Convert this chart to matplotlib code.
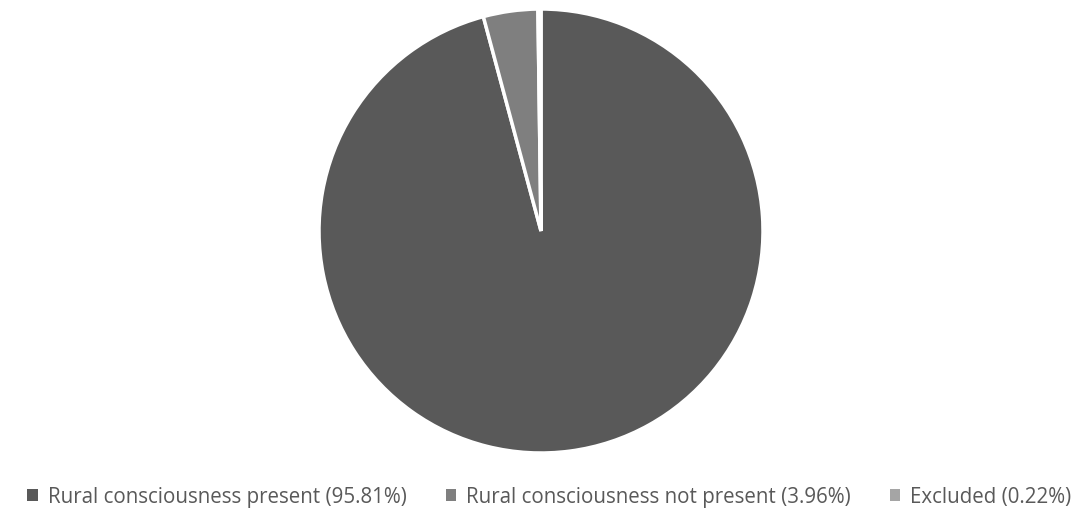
import matplotlib.pyplot as plt
from matplotlib.patches import Patch

plt.rcParams['font.family'] = ['Open Sans', 'DejaVu Sans']

# Datos del gráfico
etiquetas = ["Rural consciousness present (95.81%)",
             "Rural consciousness not present (3.96%)",
             "Excluded (0.22%)"]
valores = [95.81, 3.96, 0.22]
colores = ["#595959", "#7f7f7f", "#a5a5a5"]

fig = plt.figure(figsize=(10.88, 5.19), dpi=100)
ax = fig.add_axes([(541 - 222) / 1088, (519 - 453) / 519, 444 / 1088, 444 / 519])

ax.pie(valores, colors=colores, startangle=90, counterclock=False,
       wedgeprops=dict(edgecolor="white", linewidth=2.5))
ax.set_xlim(-1, 1)
ax.set_ylim(-1, 1)
ax.set_aspect('equal')
ax.axis('off')

# Leyenda inferior
handles = [Patch(facecolor=c, edgecolor='none') for c in colores]
fig.legend(handles, etiquetas, loc='center', bbox_to_anchor=(0.505, 1 - 497 / 519),
           ncol=3, frameon=False, fontsize=14.8, labelcolor="#595959",
           handlelength=0.5, handleheight=0.5, handletextpad=0.5, columnspacing=1.9)

fig.savefig("out.png", dpi=100)
